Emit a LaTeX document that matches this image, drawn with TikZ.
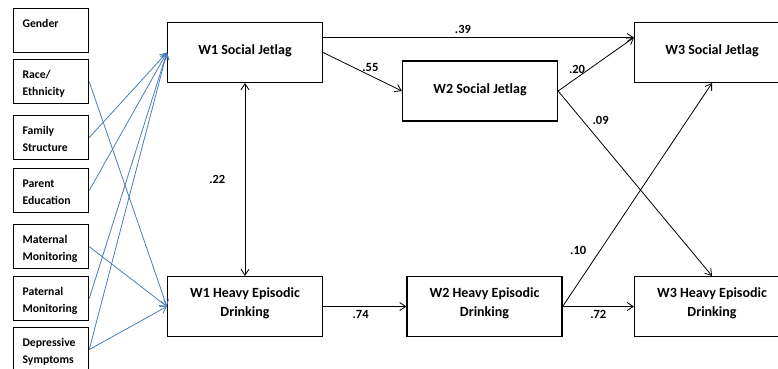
\documentclass[tikz,border=0pt]{standalone}
\usepackage{fontspec}
\setmainfont{Carlito}
\usetikzlibrary{arrows.meta}
\definecolor{pathblue}{RGB}{74,126,187}

\begin{document}
\begin{tikzpicture}[x=1pt, y=-1pt,
    >={Straight Barb[length=6pt, width=8pt]},
    covbox/.style={draw, line width=1.2pt, anchor=north west, text width=57pt, inner xsep=9pt, inner ysep=10pt,
        text height=8.5pt, text depth=15.5pt, align=left, font=\fontsize{11.7}{17}\selectfont\bfseries},
    mainbox/.style={draw, line width=1.2pt, minimum width=155pt, minimum height=60pt, align=center,
        font=\fontsize{14}{19}\selectfont\bfseries},
    sjbox/.style={mainbox, text height=10pt, text depth=6pt},
    hedbox/.style={mainbox, text height=30pt, text depth=10pt},
    effect/.style={->, line width=0.8pt},
    covpath/.style={->, line width=0.8pt, pathblue},
    coef/.style={font=\fontsize{12.5}{15}\selectfont\bfseries}]
    \useasboundingbox (0,0) rectangle (778,368);
    \clip (0,0) rectangle (778,368);

    % covariates
    \node[covbox] (gender) at (13,8) {Gender};
    \node[covbox] (race) at (13,59) {Race/\\Ethnicity};
    \node[covbox] (family) at (13,115) {Family\\Structure};
    \node[covbox] (parent) at (13,168) {Parent\\Education};
    \node[covbox] (maternal) at (13,224) {Maternal\\Monitoring};
    \node[covbox] (paternal) at (13,276) {Paternal\\Monitoring};
    \node[covbox] (depress) at (13,327) {Depressive\\Symptoms};

    % waves
    \node[sjbox] (w1sj) at (245,52.5) {W1 Social Jetlag};
    \node[hedbox] (w1hed) at (245,306.5) {W1 Heavy Episodic\\Drinking};
    \node[sjbox] (w2sj) at (480,91) {W2 Social Jetlag};
    \node[hedbox] (w2hed) at (484.5,306.5) {W2 Heavy Episodic\\Drinking};
    \node[sjbox] (w3sj) at (712,52.5) {W3 Social Jetlag};
    \node[hedbox] (w3hed) at (712,306.5) {W3 Heavy Episodic\\Drinking};

    \draw[effect] ([yshift=15pt]w1sj.east) -- node[coef, pos=0.45, above] {.39} ([yshift=15pt]w3sj.west);
    \draw[effect] (w1sj.east) -- node[coef, pos=0.6, above] {.55} (w2sj.west);
    \draw[effect] (w2sj.east) -- node[coef, pos=0.25, above] {.20} ([yshift=15pt]w3sj.west);
    \draw[effect] (w2sj.east) -- node[coef, pos=0.2, above right] {.09} (w3hed.north);
    \draw[effect] (w2hed.east) -- node[coef, pos=0.25, left=10pt] {.10} (w3sj.south);
    \draw[effect] (w2hed.east) -- node[coef, midway, below] {.72} (w3hed.west);
    \draw[effect] (w1hed.east) -- node[coef, pos=0.45, below] {.74} (w2hed.west);
    \draw[effect, <->] (w1sj.south) -- node[coef, midway, left=16pt] {.22} (w1hed.north);

    \foreach \src in {family, parent, paternal, depress}
        \draw[covpath] (\src.east) -- (w1sj.west);
    \foreach \src in {race, maternal, depress}
        \draw[covpath] (\src.east) -- (w1hed.west);
\end{tikzpicture}
\end{document}
